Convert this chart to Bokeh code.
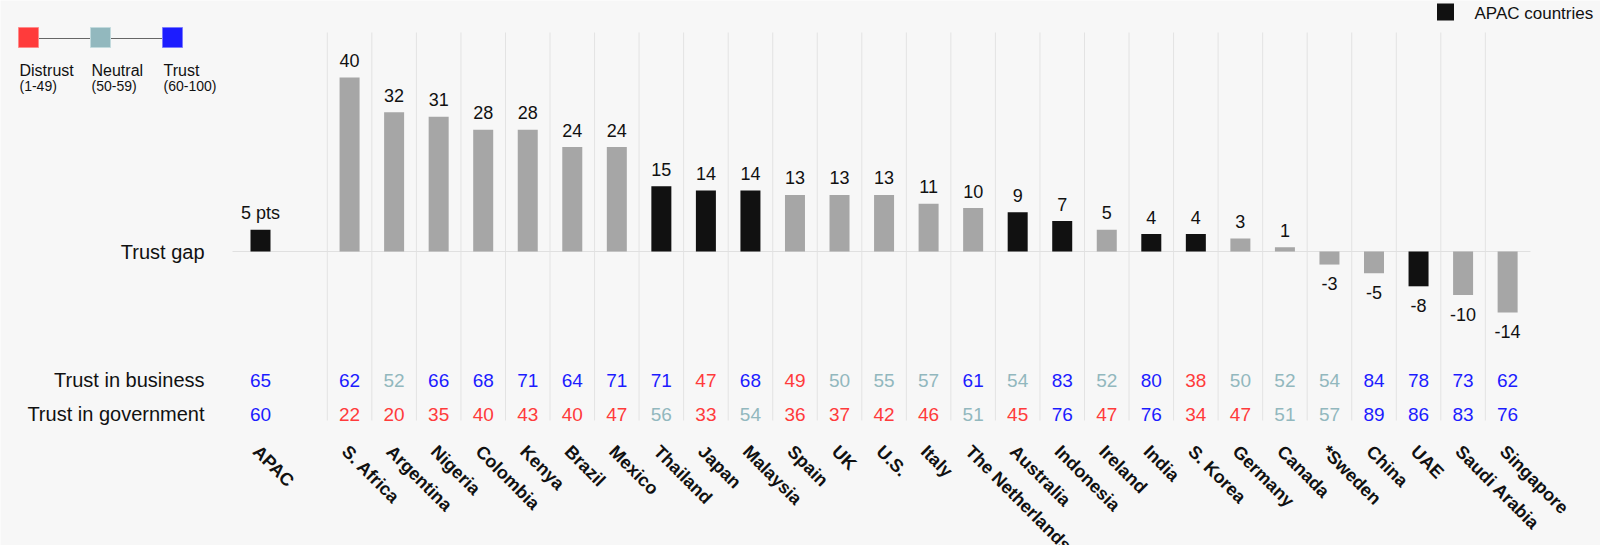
from bokeh.plotting import figure
from bokeh.models import Range1d
from bokeh.core.properties import value
from bokeh.embed import file_html
from bokeh.resources import INLINE
import math

# ---------------- data ----------------
countries = ["APAC", "S. Africa", "Argentina", "Nigeria", "Colombia", "Kenya", "Brazil",
             "Mexico", "Thailand", "Japan", "Malaysia", "Spain", "UK", "U.S.", "Italy",
             "The Netherlands", "Australia", "Indonesia", "Ireland", "India", "S. Korea",
             "Germany", "Canada", "*Sweden", "China", "UAE", "Saudi Arabia", "Singapore"]
trust_gap = [5, 40, 32, 31, 28, 28, 24, 24, 15, 14, 14, 13, 13, 13, 11, 10, 9, 7, 5, 4, 4,
             3, 1, -3, -5, -8, -10, -14]
trust_business = [65, 62, 52, 66, 68, 71, 64, 71, 71, 47, 68, 49, 50, 55, 57, 61, 54, 83, 52,
                  80, 38, 50, 52, 54, 84, 78, 73, 62]
trust_government = [60, 22, 20, 35, 40, 43, 40, 47, 56, 33, 54, 36, 37, 42, 46, 51, 45, 76, 47,
                    76, 34, 47, 51, 57, 89, 86, 83, 76]
apac_members = ["APAC", "Thailand", "Japan", "Malaysia", "Australia", "Indonesia", "India",
                "S. Korea", "UAE"]
row_labels = ["Trust gap", "Trust in business", "Trust in government"]
tier_labels = ["Distrust", "Neutral", "Trust"]
tier_ranges = ["(1-49)", "(50-59)", "(60-100)"]
apac_legend = "APAC countries"

# ---------------- style ----------------
BG = "#f7f7f7"
RED, TEAL, BLUE = "#ff3b3b", "#92b8be", "#1c1cff"
GRAY_BAR, BLACK_BAR = "#a6a6a6", "#111111"
GRID = "#e3e3e3"
FONT = value("Liberation Sans")

W, H = 1600, 545
PX, PY = 44.54, 4.35          # pixels per x unit / y unit
X0PX, Y0PX = 260, 251         # pixel of first column / zero line


def fx(px):
    return (px - X0PX) / PX


def fy(py):
    return (Y0PX - py) / PY


def tier(v):
    return RED if v < 50 else (TEAL if v < 60 else BLUE)


# column positions: APAC, one empty slot, then countries
pos = [0] + [i + 2 for i in range(len(countries) - 1)]
bar_colors = [BLACK_BAR if c in apac_members else GRAY_BAR for c in countries]
gap_text = [f"{v} pts" if i == 0 else str(v) for i, v in enumerate(trust_gap)]

p = figure(width=W, height=H, output_backend="svg", toolbar_location=None,
           x_range=Range1d(fx(0), fx(W)), y_range=Range1d(fy(H), fy(0)),
           x_axis_location=None, y_axis_location=None, min_border=0,
           background_fill_color=BG, border_fill_color=BG, outline_line_color=None)
p.grid.visible = False

# vertical separators
grid_x = [x - 0.5 for x in pos[1:]]
p.segment(x0=grid_x, y0=[fy(32)] * len(grid_x), x1=grid_x, y1=[fy(420)] * len(grid_x),
          line_color=GRID, line_width=1)
# zero line
p.segment(x0=[fx(232)], y0=[0], x1=[fx(1530)], y1=[0], line_color="#e0e0e0", line_width=1)

# bars
p.vbar(x=pos, top=trust_gap, bottom=0, width=20 / PX, fill_color=bar_colors, line_color=None)

# bar labels (17px above positive bars, 19px below negative bars)
label_y = [v + 17 / PY if v >= 0 else v - 19 / PY for v in trust_gap]
p.text(x=pos, y=label_y, text=gap_text,
       text_font=FONT, text_font_size="18px", text_color="#111111", text_align="center",
       text_baseline="middle")

# row labels
row_y = [0, fy(379.5), fy(413.5)]
p.text(x=[fx(204)] * 3, y=row_y, text=row_labels, text_font=FONT, text_font_size="20px",
       text_color="#111111", text_align="right", text_baseline="middle")

# table rows
p.text(x=pos, y=[row_y[1]] * len(pos), text=[str(v) for v in trust_business],
       text_color=[tier(v) for v in trust_business], text_font=FONT, text_font_size="19px",
       text_align="center", text_baseline="middle")
p.text(x=pos, y=[row_y[2]] * len(pos), text=[str(v) for v in trust_government],
       text_color=[tier(v) for v in trust_government], text_font=FONT, text_font_size="19px",
       text_align="center", text_baseline="middle")

# country labels
p.text(x=[x + 2.5 / PX for x in pos], y=[fy(441)] * len(pos), text=countries, angle=-math.pi / 4,
       text_font=FONT, text_font_size="18px", text_font_style="bold", text_color="#111111",
       text_align="left", text_baseline="top")

# tier legend (top-left)
leg_x = [fx(28), fx(100), fx(172)]
p.segment(x0=[leg_x[0]], y0=[fy(38)], x1=[leg_x[2]], y1=[fy(38)], line_color="#666666", line_width=1)
p.scatter(x=leg_x, y=[fy(37)] * 3, marker="square", size=20,
          fill_color=[RED, TEAL, BLUE], line_color=["#ff8a8a", "#c2dadd", "#7a7aff"], line_width=1)
p.text(x=[fx(19), fx(91), fx(163)], y=[fy(69.5)] * 3, text=tier_labels, text_font=FONT,
       text_font_size="16px", text_color="#111111", text_align="left", text_baseline="middle")
p.text(x=[fx(19), fx(91), fx(163)], y=[fy(85)] * 3, text=tier_ranges, text_font=FONT,
       text_font_size="14px", text_color="#111111", text_align="left", text_baseline="middle")

# APAC legend (top-right)
p.scatter(x=[fx(1445)], y=[fy(11.5)], marker="square", size=17, fill_color=BLACK_BAR, line_color=None)
p.text(x=[fx(1474)], y=[fy(12.5)], text=[apac_legend], text_font=FONT, text_font_size="17px",
       text_color="#111111", text_align="left", text_baseline="middle")

open("out.html", "w").write(file_html(p, INLINE))
